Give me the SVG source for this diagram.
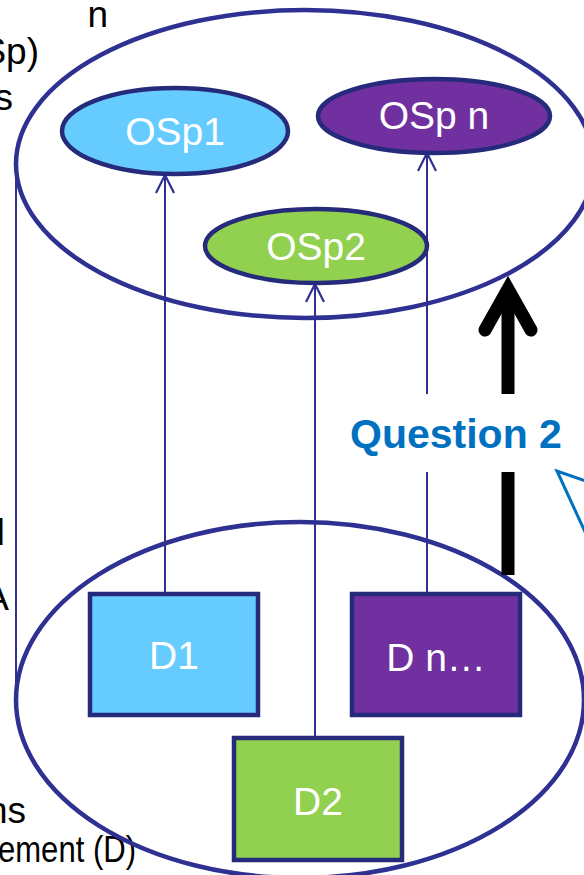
<svg xmlns="http://www.w3.org/2000/svg" width="584" height="875" viewBox="0 0 584 875">
  <style>
    .set { fill: none; stroke: #2F3192; stroke-width: 4.5; }
    .node { stroke: #262A7A; stroke-width: 4.5; }
    .blue { fill: #66CCFF; }
    .green { fill: #92D050; }
    .purple { fill: #7030A0; }
    .lbl { font-family: "Liberation Sans", Arial, sans-serif; font-size: 39px; fill: #FFFFFF; text-anchor: middle; }
    .side { font-family: "Liberation Sans", Arial, sans-serif; font-size: 37px; fill: #000000; text-anchor: end; }
    .link { stroke: #2F3192; stroke-width: 2; fill: none; }
    .q { font-family: "Liberation Sans", Arial, sans-serif; font-size: 41px; font-weight: bold; fill: #0070C0; }
  </style>
  <defs>
    <marker id="open" markerUnits="userSpaceOnUse" markerWidth="24" markerHeight="24" refX="20" refY="10" orient="auto" viewBox="0 0 24 20">
      <path d="M2,1 L20,10 L2,19" fill="none" stroke="#2F3192" stroke-width="2.2"/>
    </marker>
  </defs>

  <rect width="584" height="875" fill="#FFFFFF"/>

  <!-- side captions, partly outside the frame -->
  <g id="captions">
    <text class="side" x="108" y="27">n</text>
    <text class="side" x="39" y="64">Sp)</text>
    <text class="side" x="13" y="110">s</text>
    <text class="side" x="5" y="545" font-weight="bold">l</text>
    <text class="side" x="9" y="610">A</text>
    <text class="side" x="26" y="823">ns</text>
    <text class="side" x="136" y="862" textLength="138" lengthAdjust="spacingAndGlyphs">ement (D)</text>
  </g>

  <!-- enclosing sets -->
  <g id="set-osp">
    <ellipse class="set" cx="305" cy="164" rx="289" ry="154"/>
  </g>
  <g id="set-d">
    <ellipse class="set" cx="300" cy="700" rx="284" ry="178"/>
  </g>

  <!-- connectors -->
  <g id="connectors">
    <line class="link" x1="16" y1="165" x2="16" y2="700"/>
    <line class="link" x1="165" y1="594" x2="165" y2="175" marker-end="url(#open)"/>
    <line class="link" x1="315" y1="738" x2="315" y2="284" marker-end="url(#open)"/>
    <line class="link" x1="427" y1="594" x2="427" y2="153" marker-end="url(#open)"/>
    <!-- thick black arrow -->
    <line x1="508" y1="575" x2="508" y2="292" stroke="#000000" stroke-width="13"/>
    <path d="M485,330 L508,289 L531,330" fill="none" stroke="#000000" stroke-width="13" stroke-linecap="round" stroke-linejoin="miter"/>
  </g>

  <!-- OSp nodes -->
  <g id="osp1">
    <ellipse class="node blue" cx="175" cy="131" rx="113" ry="43"/>
    <text class="lbl" x="175" y="145">OSp1</text>
  </g>
  <g id="ospn">
    <ellipse class="node purple" cx="434" cy="116" rx="116" ry="37"/>
    <text class="lbl" x="434" y="129">OSp n</text>
  </g>
  <g id="osp2">
    <ellipse class="node green" cx="316" cy="246" rx="111" ry="37"/>
    <text class="lbl" x="316" y="260">OSp2</text>
  </g>

  <!-- D nodes -->
  <g id="d1">
    <rect class="node blue" x="90" y="594" width="168" height="121"/>
    <text class="lbl" x="174" y="669">D1</text>
  </g>
  <g id="dn">
    <rect class="node purple" x="352" y="594" width="168" height="121"/>
    <text class="lbl" x="436" y="671">D n…</text>
  </g>
  <g id="d2">
    <rect class="node green" x="234" y="738" width="168" height="122"/>
    <text class="lbl" x="318" y="815">D2</text>
  </g>

  <!-- question label with callout pointer -->
  <g id="question-2">
    <rect x="338" y="394" width="225" height="78" fill="#FFFFFF"/>
    <polyline points="586,481 557,471 586,534" fill="#FFFFFF" stroke="#0070C0" stroke-width="3"/>
    <text class="q" x="350" y="448">Question 2</text>
  </g>
</svg>
